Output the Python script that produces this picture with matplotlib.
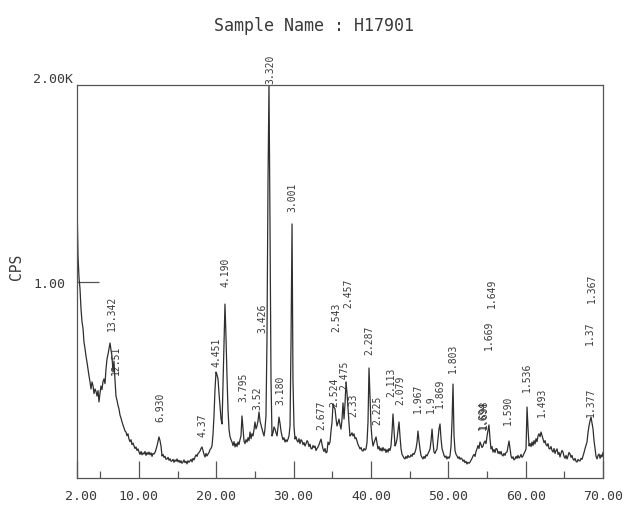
import matplotlib
matplotlib.use("Agg")
import matplotlib.pyplot as plt
from matplotlib.ticker import FixedLocator

# ---------------- data ----------------
two_theta = [
 2.00,2.13,2.26,2.39,2.52,2.65,2.78,2.90,3.03,3.16,3.29,3.42,3.55,3.68,3.81,3.94,4.07,4.20,4.33,4.46,
 4.59,4.72,4.84,4.97,5.10,5.23,5.36,5.49,5.62,5.75,5.88,6.01,6.14,6.27,6.40,6.52,6.65,6.78,6.91,7.04,
 7.17,7.30,7.43,7.56,7.69,7.82,7.95,8.08,8.20,8.33,8.46,8.59,8.72,8.85,8.98,9.11,9.24,9.37,9.50,9.63,
 9.76,9.89,10.02,10.15,10.28,10.41,10.54,10.66,10.79,10.92,11.05,11.18,11.31,11.44,11.57,11.70,11.82,11.95,12.08,12.21,
 12.34,12.47,12.60,12.73,12.86,12.99,13.12,13.25,13.38,13.51,13.64,13.77,13.90,14.03,14.16,14.28,14.41,14.54,14.67,14.80,
 14.93,15.06,15.19,15.32,15.45,15.58,15.70,15.83,15.96,16.09,16.22,16.35,16.48,16.61,16.74,16.87,17.00,17.13,17.26,17.39,
 17.52,17.65,17.78,17.90,18.03,18.16,18.29,18.42,18.55,18.68,18.81,18.94,19.07,19.20,19.32,19.45,19.58,19.71,19.84,19.97,
 20.10,20.23,20.36,20.49,20.62,20.75,20.88,21.01,21.13,21.26,21.39,21.52,21.65,21.78,21.91,22.04,22.17,22.30,22.43,22.56,
 22.69,22.81,22.94,23.07,23.20,23.33,23.46,23.59,23.72,23.85,23.98,24.11,24.24,24.37,24.50,24.62,24.75,24.88,25.01,25.14,
 25.27,25.40,25.53,25.66,25.79,25.92,26.05,26.18,26.30,26.43,26.56,26.69,26.82,26.95,27.08,27.21,27.34,27.47,27.60,27.73,
 27.86,27.99,28.11,28.24,28.37,28.50,28.63,28.76,28.89,29.02,29.15,29.28,29.41,29.54,29.67,29.80,29.92,30.05,30.18,30.31,
 30.44,30.57,30.70,30.83,30.96,31.09,31.22,31.35,31.48,31.61,31.74,31.86,31.99,32.12,32.25,32.38,32.51,32.64,32.77,32.90,
 33.03,33.16,33.29,33.42,33.55,33.68,33.80,33.93,34.06,34.19,34.32,34.45,34.58,34.71,34.84,34.97,35.10,35.23,35.36,35.49,
 35.61,35.74,35.87,36.00,36.13,36.26,36.39,36.52,36.65,36.78,36.91,37.04,37.16,37.29,37.42,37.55,37.68,37.81,37.94,38.07,
 38.20,38.33,38.46,38.59,38.72,38.85,38.98,39.11,39.24,39.36,39.49,39.62,39.75,39.88,40.01,40.14,40.27,40.40,40.53,40.66,
 40.78,40.91,41.04,41.17,41.30,41.43,41.56,41.69,41.82,41.95,42.08,42.21,42.34,42.46,42.59,42.72,42.85,42.98,43.11,43.24,
 43.37,43.50,43.63,43.76,43.89,44.02,44.15,44.27,44.40,44.53,44.66,44.79,44.92,45.05,45.18,45.31,45.44,45.57,45.70,45.83,
 45.96,46.08,46.21,46.34,46.47,46.60,46.73,46.86,46.99,47.12,47.25,47.38,47.51,47.64,47.77,47.90,48.03,48.15,48.28,48.41,
 48.54,48.67,48.80,48.93,49.06,49.19,49.32,49.45,49.58,49.70,49.83,49.96,50.09,50.22,50.35,50.48,50.61,50.74,50.87,51.00,
 51.13,51.26,51.39,51.52,51.65,51.77,51.90,52.03,52.16,52.29,52.42,52.55,52.68,52.81,52.94,53.07,53.20,53.33,53.46,53.58,
 53.71,53.84,53.97,54.10,54.23,54.36,54.49,54.62,54.75,54.88,55.01,55.13,55.26,55.39,55.52,55.65,55.78,55.91,56.04,56.17,
 56.30,56.43,56.56,56.69,56.82,56.94,57.07,57.20,57.33,57.46,57.59,57.72,57.85,57.98,58.11,58.24,58.37,58.50,58.63,58.76,
 58.89,59.01,59.14,59.27,59.40,59.53,59.66,59.79,59.92,60.05,60.18,60.31,60.44,60.57,60.70,60.82,60.95,61.08,61.21,61.34,
 61.47,61.60,61.73,61.86,61.99,62.12,62.25,62.38,62.51,62.63,62.76,62.89,63.02,63.15,63.28,63.41,63.54,63.67,63.80,63.93,
 64.06,64.19,64.32,64.44,64.57,64.70,64.83,64.96,65.09,65.22,65.35,65.48,65.61,65.74,65.87,65.99,66.12,66.25,66.38,66.51,
 66.64,66.77,66.90,67.03,67.16,67.29,67.42,67.55,67.68,67.80,67.93,68.06,68.19,68.32,68.45,68.58,68.71,68.84,68.97,69.10,
 69.23,69.36,69.49,69.62,69.74,69.87,70.00]

cps = [
 1405,1130,1020,962,860,794,760,692,660,621,590,555,520,490,453,489,470,430,453,440,
 417,445,387,430,468,450,490,504,480,555,606,630,660,687,650,621,539,595,500,417,
 395,370,351,320,305,285,270,255,240,234,215,225,198,185,195,170,178,163,150,158,
 140,148,132,120,135,118,128,122,135,115,130,120,132,118,128,110,125,122,130,145,
 163,185,209,190,163,112,120,105,110,95,97,105,90,98,85,87,95,80,92,85,
 97,82,90,78,88,75,81,92,78,85,72,88,80,87,95,82,100,92,107,118,
 110,125,130,137,150,158,140,120,107,125,112,122,130,145,150,163,220,316,450,539,
 525,504,430,366,300,275,489,700,885,720,519,350,249,210,195,183,165,185,158,175,
 160,183,170,195,214,316,250,188,175,195,183,205,190,234,200,225,214,245,285,250,
 265,290,336,290,270,249,230,214,250,316,700,1500,2000,1300,500,214,230,260,249,230,
 214,260,310,280,240,214,195,205,183,195,185,198,215,265,700,1293,500,265,198,210,
 190,183,200,175,195,188,170,180,163,175,190,183,160,172,150,148,165,155,163,140,
 150,158,170,185,198,170,148,135,150,128,132,183,170,183,240,285,377,360,351,300,
 265,280,300,270,249,300,382,300,380,489,430,351,280,214,220,230,214,225,200,205,
 188,170,160,148,155,140,137,150,142,148,180,285,560,420,265,200,163,180,195,209,
 180,148,160,140,152,137,155,140,148,130,145,132,150,140,163,230,326,240,163,175,
 198,240,285,210,148,120,110,102,97,110,100,115,105,107,118,110,125,120,132,150,
 183,239,190,148,115,105,97,110,100,118,112,125,135,148,190,249,180,132,125,138,
 148,200,250,275,200,150,132,115,105,112,97,108,100,112,160,285,478,214,140,120,
 112,100,108,95,102,97,85,92,78,85,71,80,75,81,90,100,112,120,110,135,
 148,165,150,183,170,155,163,180,188,175,214,240,270,200,148,160,132,145,130,150,
 148,125,135,122,135,118,112,125,115,130,132,160,188,150,112,100,108,92,97,110,
 100,115,102,107,120,105,112,125,135,148,361,250,163,175,160,183,165,190,173,200,
 185,214,225,210,234,215,198,180,190,170,163,175,150,148,160,140,132,150,125,140,
 148,120,130,107,125,140,132,110,100,115,97,112,130,122,105,115,97,90,100,85,
 81,95,88,87,100,95,112,130,150,165,183,230,265,290,310,280,249,190,148,110,
 97,115,122,100,118,107,130]

peak_labels = ["13.342", "12.51", "6.930", "4.37", "4.451", "4.190", "3.795", "3.52",
               "3.426", "3.320", "3.180", "3.001", "2.677", "2.524", "2.543", "2.475",
               "2.457", "2.33", "2.287", "2.225", "2.113", "2.079", "1.967", "1.9",
               "1.869", "1.803", "1.694", "1.698", "1.669", "1.649", "1.590", "1.536",
               "1.493", "1.377", "1.37", "1.367"]
label_x = [6.52, 7.04, 12.73, 18.16, 19.97, 21.26, 23.46, 25.27,
           25.92, 26.95, 28.24, 29.80, 33.55, 35.23, 35.48, 36.52,
           37.04, 37.68, 39.75, 40.78, 42.60, 43.80, 46.08, 47.70,
           48.90, 50.61, 54.49, 54.62, 55.26, 55.65, 57.72, 60.18,
           62.12, 68.45, 68.32, 68.58]
label_y = [753, 529, 290, 214, 570, 977, 392, 351,
           743, 2010, 377, 1359, 249, 366, 748, 453,
           870, 316, 631, 275, 417, 377, 336, 336,
           361, 539, 249, 255, 656, 870, 275, 443,
           316, 316, 682, 896]

x_ticks = [2, 10, 20, 30, 40, 50, 60, 70]
x_tick_labels = [" 2.00", "10.00", "20.00", "30.00", "40.00", "50.00", "60.00", "70.00"]
x_minor = [5, 15, 25, 35, 45, 55, 65]

# ---------------- figure ----------------
MONO = ["DejaVu Sans Mono"]
INK = "#3a3a3a"
fig = plt.figure(figsize=(6.28, 5.06), dpi=100)
fig.patch.set_facecolor("white")
ax = fig.add_axes([77 / 628, 1 - 479 / 506, (603 - 77) / 628, (479 - 86) / 506])

ax.plot(two_theta, cps, color="#2e2e2e", lw=0.9, clip_on=True)
ax.set_xlim(2, 70)
ax.set_ylim(0, 2000)

for s in ax.spines.values():
    s.set_color("#555555")
    s.set_linewidth(0.9)

ax.set_xticks(x_ticks)
ax.set_xticklabels(x_tick_labels, family=MONO, fontsize=9.5, color=INK)
ax.xaxis.set_minor_locator(FixedLocator(x_minor))
ax.tick_params(axis="x", which="major", direction="in", length=12, width=0.9,
               color="#555555", pad=8)
ax.tick_params(axis="x", which="minor", direction="in", length=5, width=0.9,
               color="#555555")

ax.set_yticks([1000])
ax.set_yticklabels(["1.00"], family=MONO, fontsize=9.5, color=INK)
ax.set_yticks([2000], minor=True)
ax.set_yticklabels(["2.00K"], minor=True, family=MONO, fontsize=9.5, color=INK)
ax.tick_params(axis="y", which="major", direction="in", length=16, width=0.9,
               color="#555555", pad=8.5)
ax.tick_params(axis="y", which="minor", direction="in", length=0, pad=3)
for t in ax.get_yticklabels(minor=True):
    t.set_verticalalignment("bottom")

for lab, lx, ly in zip(peak_labels, label_x, label_y):
    ax.text(lx, ly, lab, rotation=90, ha="center", va="bottom", family=MONO,
            fontsize=7, color=INK, clip_on=False)

fig.text(314 / 628, 1 - 26 / 506, "Sample Name : H17901", family=MONO,
         fontsize=12, color=INK, ha="center", va="center")
fig.text(17 / 628, 1 - 267 / 506, "CPS", family=MONO, fontsize=10.5,
         color=INK, rotation=90, ha="center", va="center")

fig.savefig("out.png", dpi=100, facecolor="white")
